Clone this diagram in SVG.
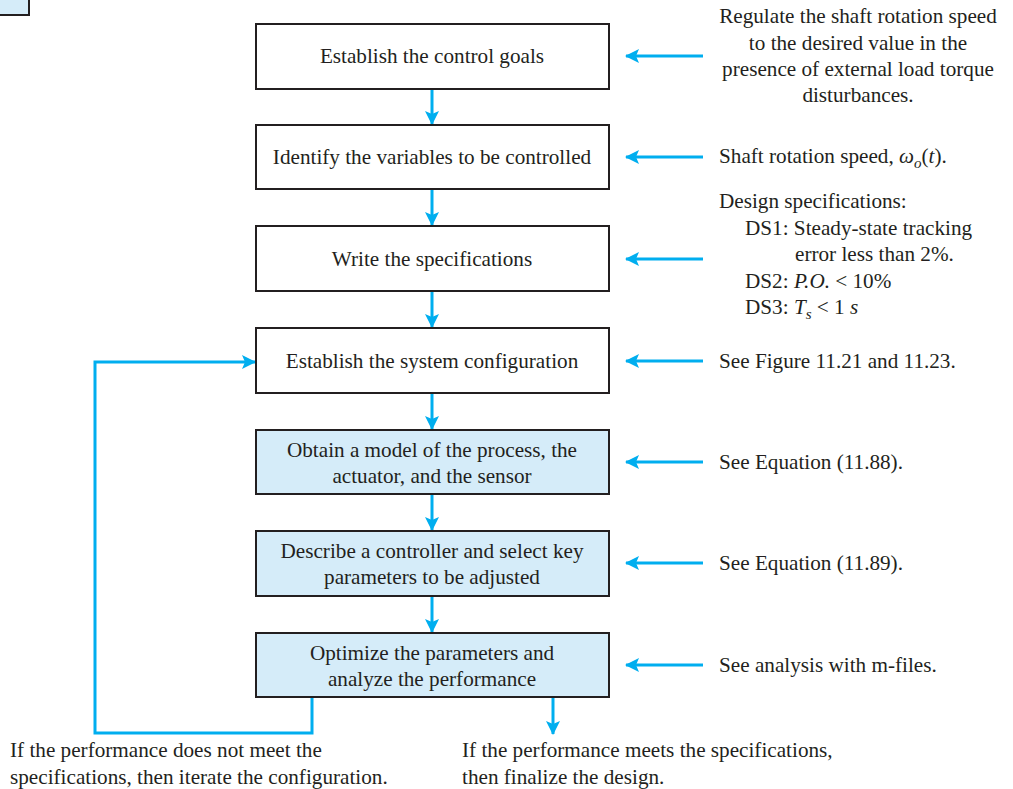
<svg xmlns="http://www.w3.org/2000/svg" width="1013" height="789" viewBox="0 0 1013 789">
<defs>
<style>
.box{fill:#ffffff;stroke:#231f20;stroke-width:2}
.fbox{fill:#d5ecf9;stroke:#231f20;stroke-width:2}
.t{font-family:"Liberation Serif","Times New Roman",serif;font-size:21.2px;fill:#231f20}
.c{text-anchor:middle}
.ln{stroke:#00aeef;stroke-width:3;fill:none}
</style>
<marker id="ah" viewBox="0 0 14 14" refX="13" refY="7" markerWidth="14" markerHeight="14" markerUnits="userSpaceOnUse" orient="auto">
<path d="M0,0 L14,7 L0,14 L3,7 Z" fill="#00aeef"/>
</marker>
</defs>
<rect width="1013" height="789" fill="#ffffff"/>
<rect x="-5" y="-5" width="34" height="20" class="fbox"/>

<g id="connectors">
<line class="ln" x1="432" y1="89" x2="432" y2="124" marker-end="url(#ah)"/>
<line class="ln" x1="432" y1="189" x2="432" y2="225" marker-end="url(#ah)"/>
<line class="ln" x1="432" y1="291" x2="432" y2="327" marker-end="url(#ah)"/>
<line class="ln" x1="432" y1="393" x2="432" y2="429" marker-end="url(#ah)"/>
<line class="ln" x1="432" y1="494" x2="432" y2="530" marker-end="url(#ah)"/>
<line class="ln" x1="432" y1="596" x2="432" y2="632" marker-end="url(#ah)"/>
<line class="ln" x1="553" y1="697" x2="553" y2="734" marker-end="url(#ah)"/>
<polyline class="ln" points="312,697 312,733 95,733 95,362 255,362" marker-end="url(#ah)"/>
<line class="ln" x1="703" y1="56" x2="626" y2="56" marker-end="url(#ah)"/>
<line class="ln" x1="703" y1="157" x2="626" y2="157" marker-end="url(#ah)"/>
<line class="ln" x1="703" y1="259" x2="626" y2="259" marker-end="url(#ah)"/>
<line class="ln" x1="703" y1="361" x2="626" y2="361" marker-end="url(#ah)"/>
<line class="ln" x1="703" y1="462" x2="626" y2="462" marker-end="url(#ah)"/>
<line class="ln" x1="703" y1="563" x2="626" y2="563" marker-end="url(#ah)"/>
<line class="ln" x1="703" y1="665" x2="626" y2="665" marker-end="url(#ah)"/>
</g>

<g id="n1"><rect class="box" x="256" y="24" width="353" height="65"/><text class="t c" x="432" y="63">Establish the control goals</text></g>
<g id="n2"><rect class="box" x="256" y="125" width="353" height="64"/><text class="t c" x="432" y="164">Identify the variables to be controlled</text></g>
<g id="n3"><rect class="box" x="256" y="226" width="353" height="65"/><text class="t c" x="432" y="266">Write the specifications</text></g>
<g id="n4"><rect class="box" x="256" y="328" width="353" height="65"/><text class="t c" x="432" y="368">Establish the system configuration</text></g>
<g id="n5"><rect class="fbox" x="256" y="430" width="353" height="64"/><text class="t c" x="432" y="457">Obtain a model of the process, the</text><text class="t c" x="432" y="483">actuator, and the sensor</text></g>
<g id="n6"><rect class="fbox" x="256" y="531" width="353" height="65"/><text class="t c" x="432" y="558">Describe a controller and select key</text><text class="t c" x="432" y="584">parameters to be adjusted</text></g>
<g id="n7"><rect class="fbox" x="256" y="633" width="353" height="64"/><text class="t c" x="432" y="660">Optimize the parameters and</text><text class="t c" x="432" y="686">analyze the performance</text></g>

<g id="notes">
<text class="t c" x="858" y="23">Regulate the shaft rotation speed</text>
<text class="t c" x="858" y="50">to the desired value in the</text>
<text class="t c" x="858" y="76">presence of external load torque</text>
<text class="t c" x="858" y="102">disturbances.</text>
<text class="t" x="719" y="163">Shaft rotation speed, <tspan font-style="italic">ω</tspan><tspan font-style="italic" font-size="15" dy="5">o</tspan><tspan dy="-5">(</tspan><tspan font-style="italic">t</tspan>).</text>
<text class="t" x="719" y="208">Design specifications:</text>
<text class="t" x="745" y="235">DS1: Steady-state tracking</text>
<text class="t" x="795" y="261">error less than 2%.</text>
<text class="t" x="745" y="288">DS2: <tspan font-style="italic">P.O.</tspan> &lt; 10%</text>
<text class="t" x="745" y="314">DS3: <tspan font-style="italic">T</tspan><tspan font-style="italic" font-size="15" dy="5">s</tspan><tspan dy="-5"> &lt; 1 </tspan><tspan font-style="italic">s</tspan></text>
<text class="t" x="719" y="368">See Figure 11.21 and 11.23.</text>
<text class="t" x="719" y="469">See Equation (11.88).</text>
<text class="t" x="719" y="570">See Equation (11.89).</text>
<text class="t" x="719" y="672">See analysis with m-files.</text>
<text class="t" x="10" y="757">If the performance does not meet the</text>
<text class="t" x="10" y="784">specifications, then iterate the configuration.</text>
<text class="t" x="462" y="757">If the performance meets the specifications,</text>
<text class="t" x="462" y="784">then finalize the design.</text>
</g>
</svg>
